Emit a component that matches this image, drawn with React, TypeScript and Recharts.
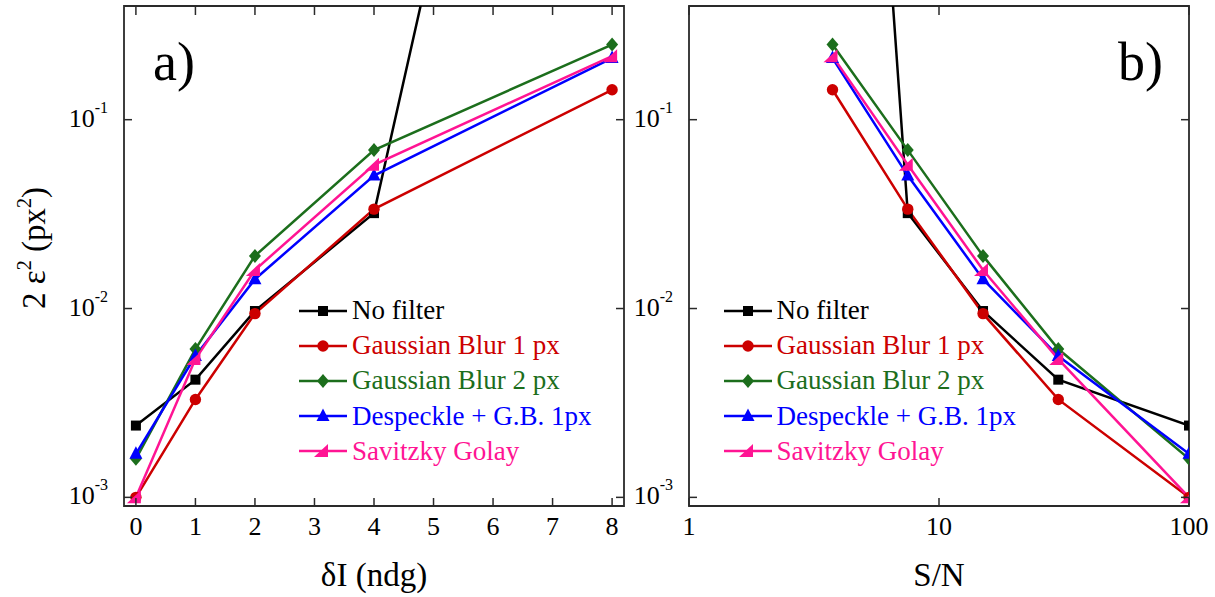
import React from "react";
import { LineChart, Line, XAxis, YAxis, ReferenceArea, Legend } from "recharts";

// δI (ndg) values and the matching S/N used in panel b)
const deltaI = [0, 1, 2, 4, 8];
const snr = [100, 30, 15, 7.5, 3.75];

// 2ε² (px²) for each filter, same order as deltaI
const noFilter = [2.4e-3, 4.2e-3, 9.7e-3, 0.032, 1.3e4];
const gaussBlur1 = [1.0e-3, 3.3e-3, 9.4e-3, 0.0336, 0.144];
const gaussBlur2 = [1.6e-3, 6.1e-3, 0.019, 0.069, 0.25];
const despeckle = [1.7e-3, 5.6e-3, 0.0143, 0.0506, 0.212];
const savitzky = [1.0e-3, 5.4e-3, 0.016, 0.0577, 0.217];

const yTicks = [0.001, 0.01, 0.1];
const xTicksA = [0, 1, 2, 3, 4, 5, 6, 7, 8];
const xTicksB = [1, 10, 100];

const FONT = '"Liberation Serif", "Times New Roman", serif';
const FRAME = "#2a2a2a";
const PLOT_W = 500;
const PLOT_H = 500;

const series = [
  { key: "noFilter", name: "No filter", color: "#000000", shape: "square" },
  { key: "gaussBlur1", name: "Gaussian Blur 1 px", color: "#cc0000", shape: "circle" },
  { key: "gaussBlur2", name: "Gaussian Blur 2 px", color: "#1c6e1c", shape: "diamond" },
  { key: "despeckle", name: "Despeckle + G.B. 1px", color: "#0000ff", shape: "triangle" },
  { key: "savitzky", name: "Savitzky Golay", color: "#ff1493", shape: "wedge" },
];

const rows = deltaI.map((d, i) => ({
  di: d,
  sn: snr[i],
  noFilter: noFilter[i],
  gaussBlur1: gaussBlur1[i],
  gaussBlur2: gaussBlur2[i],
  despeckle: despeckle[i],
  savitzky: savitzky[i],
}));

function Marker({ shape, cx, cy, color }: any) {
  if (cx == null || cy == null) return null;
  switch (shape) {
    case "square":
      return <rect x={cx - 5} y={cy - 5} width={10} height={10} fill={color} />;
    case "circle":
      return <circle cx={cx} cy={cy} r={5.7} fill={color} />;
    case "diamond":
      return <polygon points={`${cx},${cy - 7} ${cx + 6},${cy} ${cx},${cy + 7} ${cx - 6},${cy}`} fill={color} />;
    case "triangle":
      return <polygon points={`${cx},${cy - 7.5} ${cx + 6.5},${cy + 5} ${cx - 6.5},${cy + 5}`} fill={color} />;
    default:
      // skewed pink triangle
      return <polygon points={`${cx + 5},${cy - 7} ${cx + 5},${cy + 6} ${cx - 9},${cy + 6}`} fill={color} />;
  }
}

function YTick({ x, y, payload }: any) {
  const exp = Math.round(Math.log10(payload.value));
  return (
    <g>
      <line x1={x} x2={x + 8} y1={y} y2={y} stroke={FRAME} strokeWidth={1.5} />
      <line x1={x + PLOT_W - 8} x2={x + PLOT_W} y1={y} y2={y} stroke={FRAME} strokeWidth={1.5} />
      <text x={x - 16} y={y + 7} textAnchor="end" fontSize={26} fontFamily={FONT} fill="#000">
        10
        <tspan dy={-14} fontSize={16}>
          {exp < 0 ? "-" + Math.abs(exp) : String(exp)}
        </tspan>
      </text>
    </g>
  );
}

function XTick({ x, y, payload }: any) {
  return (
    <g>
      <line x1={x} x2={x} y1={y} y2={y - 8} stroke={FRAME} strokeWidth={1.5} />
      <line x1={x} x2={x} y1={y - PLOT_H} y2={y - PLOT_H + 9} stroke={FRAME} strokeWidth={1.5} />
      <text x={x} y={y + 29} textAnchor="middle" fontSize={26} fontFamily={FONT} fill="#000">
        {payload.value}
      </text>
    </g>
  );
}

function LegendBox() {
  return (
    <div style={{ fontFamily: FONT, fontSize: 27 }}>
      {series.map((s) => (
        <div key={s.key} style={{ display: "flex", alignItems: "center", height: 35.2, whiteSpace: "nowrap" }}>
          <svg width={50} height={20} style={{ display: "block" }}>
            <line x1={0} x2={48} y1={10} y2={10} stroke={s.color} strokeWidth={2.5} />
            <Marker shape={s.shape} cx={24} cy={10} color={s.color} />
          </svg>
          <span style={{ color: s.color, marginLeft: 3, lineHeight: "35.2px" }}>{s.name}</span>
        </div>
      ))}
    </div>
  );
}

function seriesLines() {
  return series.map((s) => (
    <Line
      key={s.key}
      dataKey={s.key}
      type="linear"
      stroke={s.color}
      strokeWidth={2.5}
      isAnimationActive={false}
      activeDot={false}
      dot={(p: any) => <Marker key={`${s.key}-${p.index}`} shape={s.shape} cx={p.cx} cy={p.cy} color={s.color} />}
    />
  ));
}

function yTitle(p: any) {
  const vb = p.viewBox;
  const cx = vb.x - 19;
  const cy = vb.y + vb.height / 2 - 8;
  return (
    <text transform={`translate(${cx},${cy}) rotate(-90)`} textAnchor="middle" fontSize={33} fontFamily={FONT} fill="#000">
      2 ε<tspan dy={-14} fontSize={20}>2</tspan>
      <tspan dy={14}> (px</tspan>
      <tspan dy={-14} fontSize={20}>2</tspan>
      <tspan dy={14}>)</tspan>
    </text>
  );
}

function xTitle(text: string) {
  return (p: any) => {
    const vb = p.viewBox;
    return (
      <text x={vb.x + vb.width / 2} y={vb.y + 80} textAnchor="middle" fontSize={33} fontFamily={FONT} fill="#000">
        {text}
      </text>
    );
  };
}

function panelLabel(text: string, dx: number) {
  return (p: any) => {
    const vb = p.viewBox;
    return (
      <text x={vb.x + dx} y={vb.y + 74} fontSize={54} fontFamily={FONT} fill="#000">
        {text}
      </text>
    );
  };
}

export default function App() {
  return (
    <div style={{ position: "absolute", left: 0, top: 0, width: 1215, height: 597, background: "#fff" }}>
      <div style={{ position: "absolute", left: 0, top: 0 }}>
        <LineChart width={640} height={597} data={rows} margin={{ top: 6, right: 16, bottom: 51, left: 64 }}>
          <XAxis
            dataKey="di"
            type="number"
            domain={[-0.2, 8.2]}
            ticks={xTicksA}
            allowDataOverflow
            axisLine={false}
            tickLine={false}
            tickSize={0}
            tickMargin={0}
            height={40}
            tick={<XTick />}
            label={{ content: xTitle("δI (ndg)") }}
          />
          <YAxis
            type="number"
            scale="log"
            domain={[0.0009, 0.4]}
            ticks={yTicks}
            allowDataOverflow
            axisLine={false}
            tickLine={false}
            tickSize={0}
            tickMargin={0}
            width={60}
            tick={<YTick />}
            label={{ content: yTitle }}
          />
          <ReferenceArea
            x1={-0.2}
            x2={8.2}
            y1={0.0009}
            y2={0.4}
            fill="none"
            fillOpacity={0}
            stroke={FRAME}
            strokeWidth={1.8}
            label={{ content: panelLabel("a)", 29) }}
          />
          {seriesLines()}
          <Legend
            layout="horizontal"
            align="center"
            verticalAlign="middle"
            content={() => <LegendBox />}
            wrapperStyle={{ left: 299, top: 293, width: 320 }}
          />
        </LineChart>
      </div>
      <div style={{ position: "absolute", left: 620, top: 0 }}>
        <LineChart width={595} height={597} data={rows} margin={{ top: 6, right: 26, bottom: 51, left: 9 }}>
          <XAxis
            dataKey="sn"
            type="number"
            scale="log"
            domain={[1, 100]}
            ticks={xTicksB}
            allowDataOverflow
            axisLine={false}
            tickLine={false}
            tickSize={0}
            tickMargin={0}
            height={40}
            tick={<XTick />}
            label={{ content: xTitle("S/N") }}
          />
          <YAxis
            type="number"
            scale="log"
            domain={[0.0009, 0.4]}
            ticks={yTicks}
            allowDataOverflow
            axisLine={false}
            tickLine={false}
            tickSize={0}
            tickMargin={0}
            width={60}
            tick={<YTick />}
          />
          <ReferenceArea
            x1={1}
            x2={100}
            y1={0.0009}
            y2={0.4}
            fill="none"
            fillOpacity={0}
            stroke={FRAME}
            strokeWidth={1.8}
            label={{ content: panelLabel("b)", 429) }}
          />
          {seriesLines()}
          <Legend
            layout="horizontal"
            align="center"
            verticalAlign="middle"
            content={() => <LegendBox />}
            wrapperStyle={{ left: 103.5, top: 293, width: 320 }}
          />
        </LineChart>
      </div>
    </div>
  );
}
